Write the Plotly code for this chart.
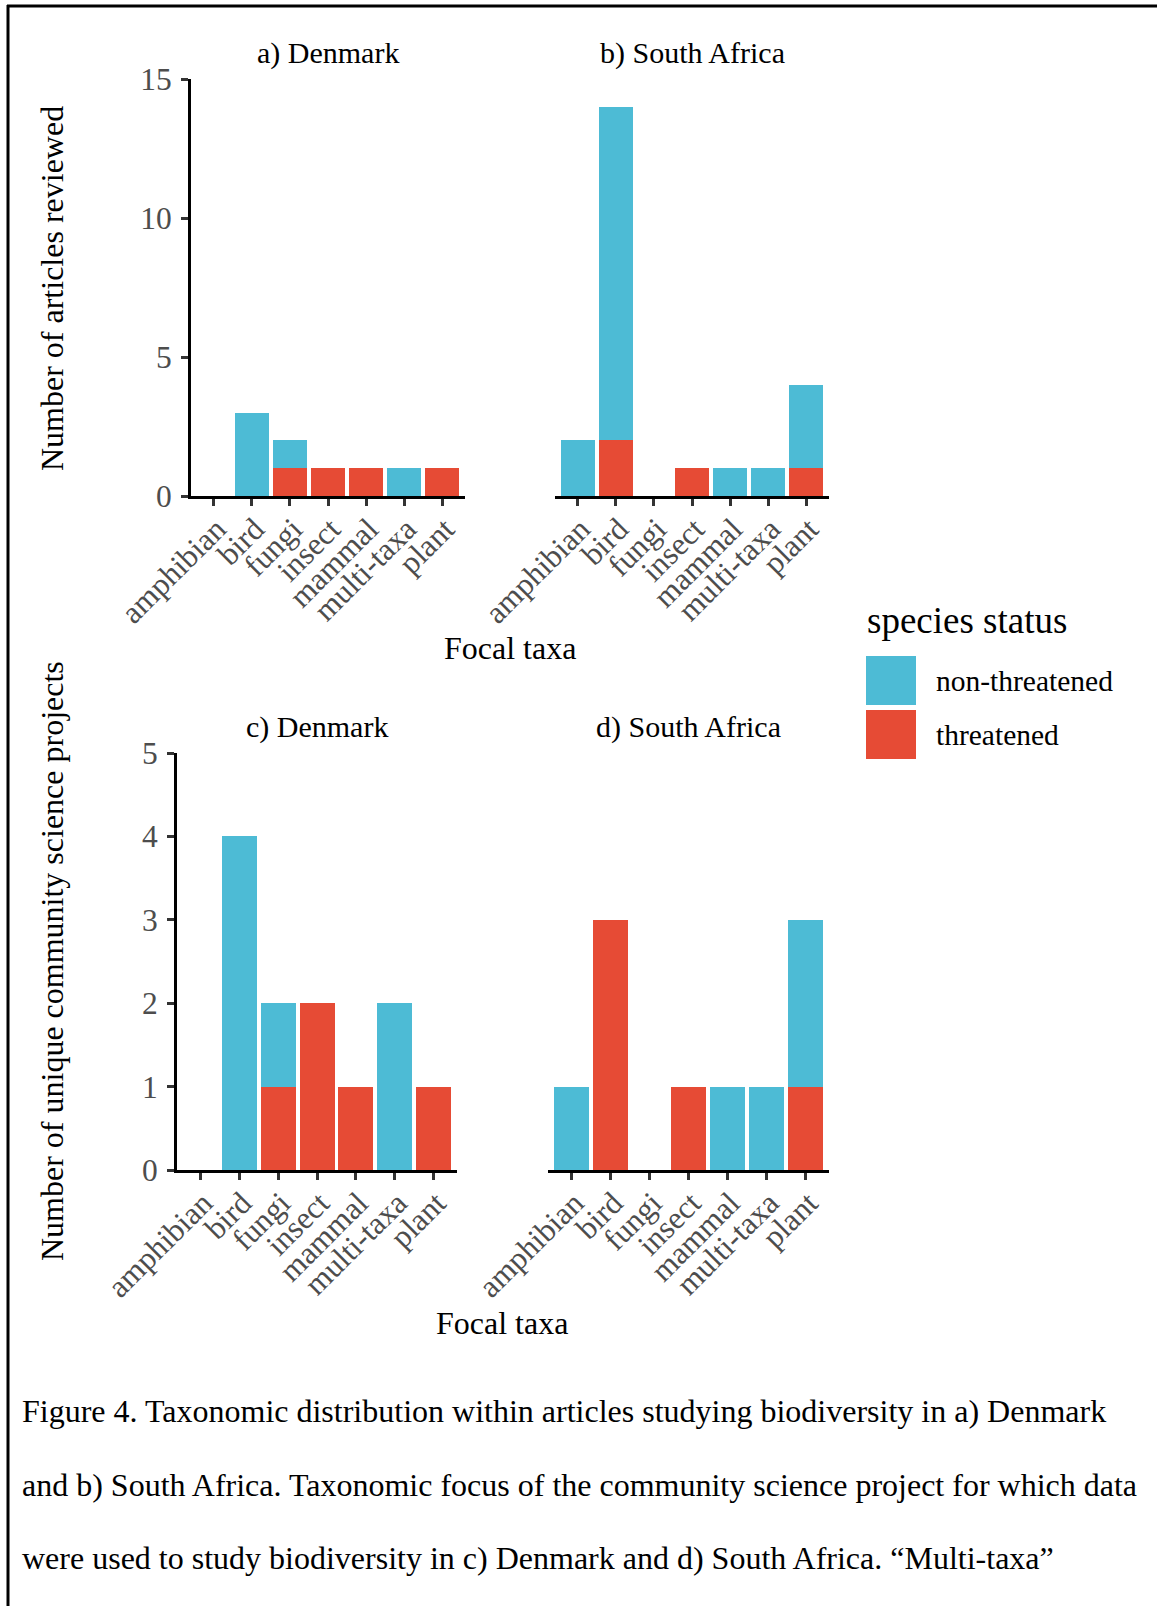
import plotly.graph_objects as go

# Focal taxa shown on every panel's x axis
taxa = ["amphibian", "bird", "fungi", "insect", "mammal", "multi-taxa", "plant"]

# a) Denmark – articles reviewed
dk_articles_non = [0, 3, 1, 0, 0, 1, 0]
dk_articles_thr = [0, 0, 1, 1, 1, 0, 1]
# b) South Africa – articles reviewed
sa_articles_non = [2, 12, 0, 0, 1, 1, 3]
sa_articles_thr = [0, 2, 0, 1, 0, 0, 1]
# c) Denmark – unique community science projects
dk_projects_non = [0, 4, 1, 0, 0, 2, 0]
dk_projects_thr = [0, 0, 1, 2, 1, 0, 1]
# d) South Africa – unique community science projects
sa_projects_non = [1, 0, 0, 0, 1, 1, 2]
sa_projects_thr = [0, 3, 0, 1, 0, 0, 1]

panel_titles = ["a) Denmark", "b) South Africa", "c) Denmark", "d) South Africa"]
status_labels = ["non-threatened", "threatened"]
articles_ticks = [0, 5, 10, 15]
projects_ticks = [0, 1, 2, 3, 4, 5]

caption_lines = [
    "Figure 4. Taxonomic distribution within articles studying biodiversity in a) Denmark",
    "and b) South Africa. Taxonomic focus of the community science project for which data",
    "were used to study biodiversity in c) Denmark and d) South Africa. \u201cMulti-taxa\u201d",
]

BLUE = "#4DBBD5"
RED = "#E64B35"
FONT = "Liberation Serif"
W, H = 1157, 1606


def px(x):
    return x / W


def py(y):
    return 1 - y / H


fig = go.Figure()

panels = [
    (dk_articles_non, dk_articles_thr, "x", "y"),
    (sa_articles_non, sa_articles_thr, "x2", "y2"),
    (dk_projects_non, dk_projects_thr, "x3", "y3"),
    (sa_projects_non, sa_projects_thr, "x4", "y4"),
]
for non, thr, xa, ya in panels:
    fig.add_trace(go.Bar(x=taxa, y=thr, name=status_labels[1], marker=dict(color=RED, line=dict(width=0)),
                         width=0.9, xaxis=xa, yaxis=ya, showlegend=False))
    fig.add_trace(go.Bar(x=taxa, y=non, name=status_labels[0], marker=dict(color=BLUE, line=dict(width=0)),
                         width=0.9, xaxis=xa, yaxis=ya, showlegend=False))

# panel frames in pixels: (left, right, top, bottom)
frames = [
    (191, 465, 79, 496),
    (555, 829, 79, 496),
    (177, 457, 753, 1170),
    (548, 829, 753, 1170),
]

tick_font = dict(family=FONT, size=31.5, color="#4D4D4D")
xcommon = dict(
    type="category", categoryorder="array", categoryarray=taxa, range=[-0.6, 6.6],
    tickmode="array", tickvals=taxa, ticktext=taxa,
    showline=True, linecolor="black", linewidth=3, ticks="outside", ticklen=7,
    tickwidth=2.5, tickcolor="#333333", tickangle=-45, tickfont=tick_font,
    ticklabelstandoff=-8, ticklabelshift=3,
    showgrid=False, zeroline=False, fixedrange=True, automargin=False,
)
layout = {}
for i, (l, r, t, b) in enumerate(frames):
    sx = "" if i == 0 else str(i + 1)
    ya = "y" + sx
    layout["xaxis" + sx] = dict(xcommon, domain=[px(l), px(r)], anchor=ya)
    upper = i < 2
    rng = [0, 15] if upper else [0, 5]
    left_panel = i in (0, 2)
    yax = dict(domain=[py(b), py(t)], anchor="x" + sx, range=rng, showgrid=False,
               zeroline=False, fixedrange=True, automargin=False)
    if left_panel:
        yax.update(showline=True, linecolor="black", linewidth=3, ticks="outside", ticklen=7,
                   tickwidth=2.5, tickcolor="#333333", tickmode="array",
                   tickvals=articles_ticks if upper else projects_ticks,
                   tickfont=tick_font, ticklabelstandoff=3)
    else:
        yax.update(showline=False, showticklabels=False, ticks="")
    layout["yaxis" + sx] = yax

annotations = []
# facet titles
for (l, r, t, b), title in zip(frames, panel_titles):
    annotations.append(dict(text=title, x=px((l + r) / 2), y=py(t - 26), xref="paper", yref="paper",
                            xanchor="center", yanchor="middle", showarrow=False,
                            font=dict(family=FONT, size=30, color="black")))
# axis titles
annotations += [
    dict(text="Number of articles reviewed", x=px(52), y=py(289), textangle=-90),
    dict(text="Number of unique community science projects", x=px(52), y=py(961), textangle=-90),
    dict(text="Focal taxa", x=px(510), y=py(648)),
    dict(text="Focal taxa", x=px(502), y=py(1323)),
]
for a in annotations[4:]:
    a.update(xref="paper", yref="paper", xanchor="center", yanchor="middle", showarrow=False,
             font=dict(family=FONT, size=32, color="black"))

# legend drawn by hand: title, colour keys, labels
annotations.append(dict(text="species status", x=px(865), y=py(620), xref="paper", yref="paper",
                        xanchor="left", yanchor="middle", showarrow=False,
                        font=dict(family=FONT, size=37, color="black")))
shapes = []
for k, (label, color) in enumerate(zip(status_labels, [BLUE, RED])):
    top = 656 + k * 54
    shapes.append(dict(type="rect", xref="paper", yref="paper", x0=px(866), x1=px(916),
                       y0=py(top + 49), y1=py(top), fillcolor=color, line=dict(width=0)))
    annotations.append(dict(text=label, x=px(934), y=py(top + 25), xref="paper", yref="paper",
                            xanchor="left", yanchor="middle", showarrow=False,
                            font=dict(family=FONT, size=29.5, color="black")))

# caption below the figure
for j, line in enumerate(caption_lines):
    annotations.append(dict(text=line, x=px(20), y=py(1411 + j * 73.5), xref="paper", yref="paper",
                            xanchor="left", yanchor="middle", showarrow=False,
                            font=dict(family=FONT, size=32, color="black")))

# page frame lines along the top and left edges
shapes.append(dict(type="line", xref="paper", yref="paper", x0=px(7), x1=1, y0=py(6), y1=py(6),
                   line=dict(color="black", width=3)))
shapes.append(dict(type="line", xref="paper", yref="paper", x0=px(8), x1=px(8), y0=py(5), y1=0,
                   line=dict(color="black", width=3)))

fig.update_layout(
    template="none",
    width=W, height=H, autosize=False, margin=dict(l=0, r=0, t=0, b=0, pad=0),
    paper_bgcolor="white", plot_bgcolor="white", barmode="stack",
    showlegend=False, annotations=annotations, shapes=shapes,
    font=dict(family=FONT), **layout,
)

fig.write_html("out.html")
